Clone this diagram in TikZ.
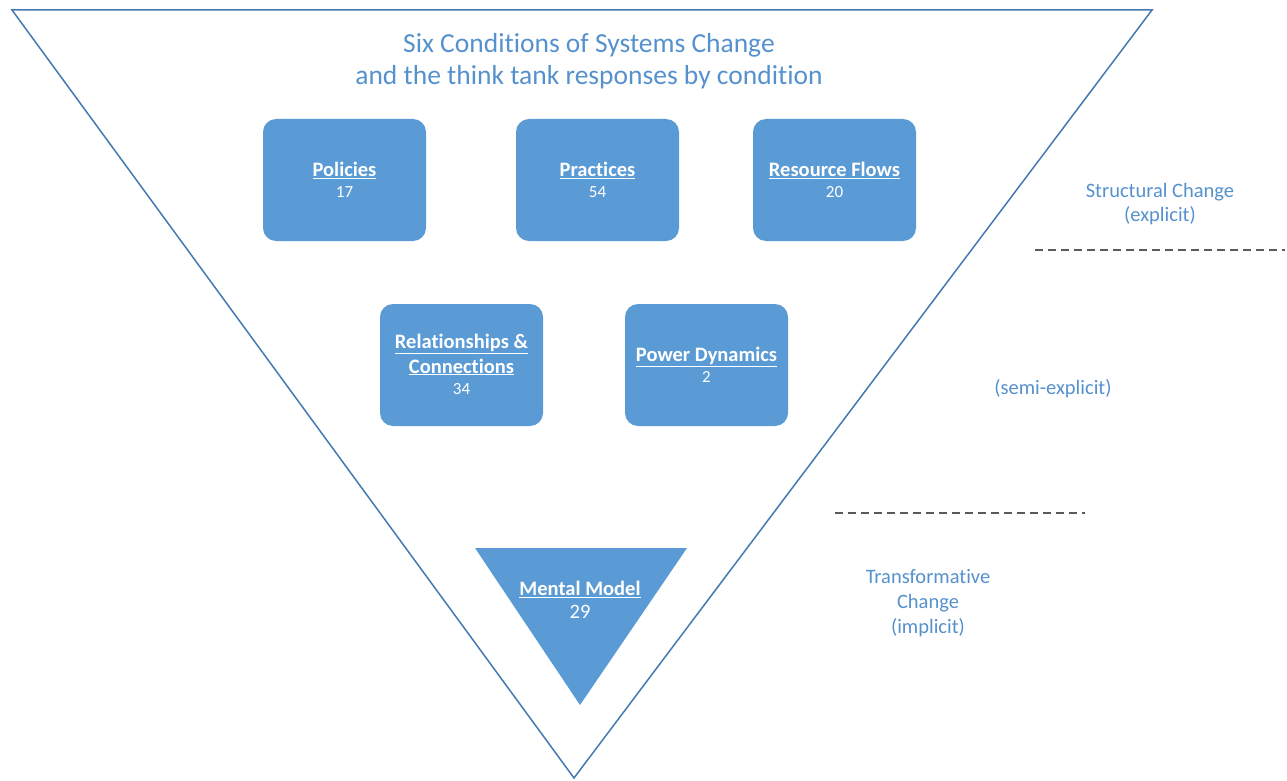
\documentclass[tikz,border=0pt]{standalone}
\usepackage{fontspec}
\setmainfont[Ligatures=NoCommon]{Carlito}
\usetikzlibrary{calc}
\definecolor{boxblue}{RGB}{91,155,213}
\definecolor{edgeblue}{RGB}{70,120,180}
\definecolor{txtblue}{RGB}{85,145,205}
\definecolor{dashgray}{RGB}{90,90,90}
\tikzset{
  x=1pt,y=-1pt,
  cond/.style={fill=boxblue, draw=none, rounded corners=13pt, minimum width=163pt, minimum height=122pt, text=white, align=center, font=\fontsize{20.5}{25}\selectfont, inner sep=0pt},
  sidelabel/.style={text=txtblue, align=center, font=\fontsize{20.5}{24}\selectfont},
  sep/.style={draw=dashgray, line width=1.3pt, dash pattern=on 8pt off 5pt},
}
\newcommand{\cl}[1]{\textbf{\underline{#1}}}
\newcommand{\cn}[1]{{\fontsize{17}{20}\selectfont #1}}
\begin{document}
\begin{tikzpicture}
\useasboundingbox (0,0) rectangle (1287,781);
% big triangle
\coordinate (tl) at (12,10);
\coordinate (tr) at (1152,10);
\coordinate (bt) at (574,778);
\draw[edgeblue, line width=1.5pt, line join=miter] (tl) -- (tr) -- (bt) -- cycle;
% title
\node[text=txtblue, align=center, font=\fontsize{27.5}{32}\selectfont] (title) at (589,61) {Six Conditions of Systems Change\\and the think tank responses by condition};
% boxes
\node[cond] (pol) at (344.5,180) {};
\node[text=white, align=center, font=\fontsize{20.5}{25}\selectfont] (polt) at (344.5,180) {\cl{Policies}\\[-4pt]\cn{17}};
\node[cond] (pra) at (597.5,180) {};
\node[text=white, align=center, font=\fontsize{20.5}{25}\selectfont] (prat) at (597.5,180) {\cl{Practices}\\[-4pt]\cn{54}};
\node[cond] (res) at (834.5,180) {};
\node[text=white, align=center, font=\fontsize{20.5}{25}\selectfont] (rest) at (834.5,180) {\cl{Resource Flows}\\[-4pt]\cn{20}};
\node[cond] (rel) at (461.5,365) {};
\node[text=white, align=center, font=\fontsize{20.5}{25}\selectfont] (relt) at (461.5,364) {\cl{Relationships \&}\\\cl{Connections}\\[-4pt]\cn{34}};
\node[cond] (pow) at (706.5,365) {};
\node[text=white, align=center, font=\fontsize{20.5}{25}\selectfont] (powt) at (706.5,365) {\cl{Power Dynamics}\\[-4pt]\cn{2}};
% mental model triangle
\coordinate (m1) at (475,548);
\coordinate (m2) at (687,548);
\coordinate (m3) at (580,705);
\fill[boxblue] (m1) -- (m2) -- (m3) -- cycle;
\node[text=white, align=center, font=\fontsize{20.5}{25}\selectfont] (mm) at (580,600) {\cl{Mental Model}\\[-2pt]{\fontsize{20.5}{20}\selectfont 29}};
% side labels
\node[sidelabel] (sc) at (1160,204) {Structural Change\\(explicit)};
\node[sidelabel] (se) at (1053,389) {(semi-explicit)};
\node[sidelabel, font=\fontsize{20.5}{25}\selectfont] (tc) at (928,603) {Transformative\\Change\\(implicit)};
% separators
\coordinate (d1a) at (1035,250);
\coordinate (d1b) at (1285,250);
\coordinate (d2a) at (835,513);
\coordinate (d2b) at (1085,513);
\draw[sep] (d1a) -- (d1b);
\draw[sep] (d2a) -- (d2b);
\end{tikzpicture}
\end{document}
